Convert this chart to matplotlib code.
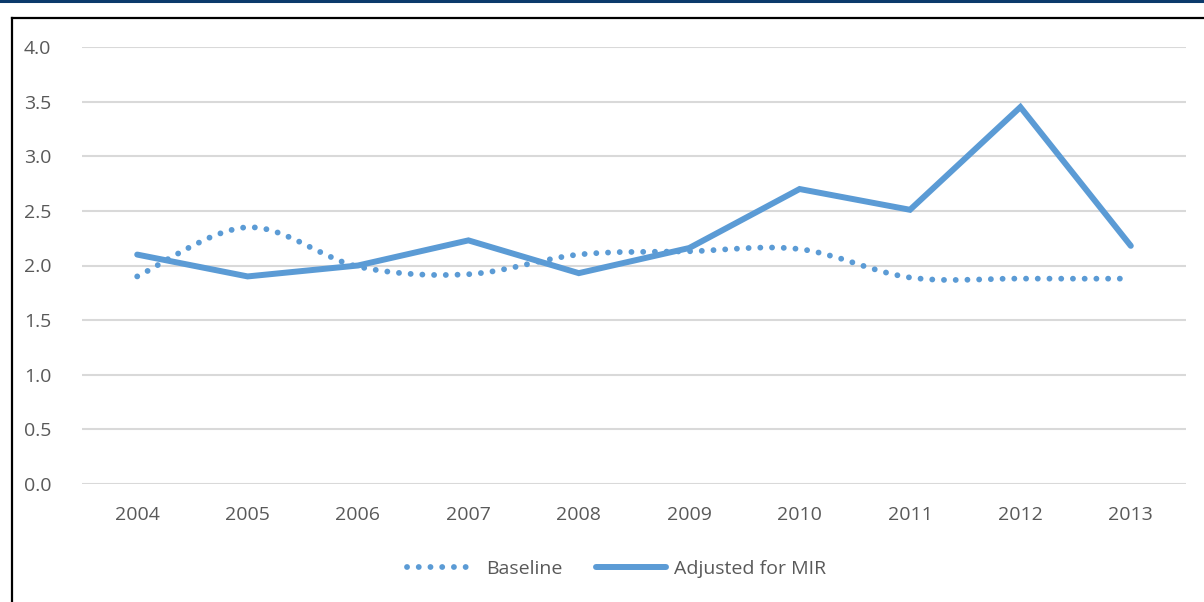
import matplotlib
matplotlib.use("Agg")
import matplotlib.pyplot as plt
from matplotlib.path import Path
from matplotlib.patches import PathPatch
from matplotlib.lines import Line2D
import numpy as np

years = ["2004", "2005", "2006", "2007", "2008", "2009", "2010", "2011", "2012", "2013"]
baseline = [1.90, 2.35, 1.99, 1.92, 2.10, 2.13, 2.15, 1.89, 1.88, 1.88]
adjusted = [2.10, 1.90, 2.00, 2.23, 1.93, 2.16, 2.70, 2.51, 3.45, 2.18]

BLUE = "#5B9BD5"
GREY = "#595959"
plt.rcParams["font.family"] = ["Open Sans", "DejaVu Sans"]

fig = plt.figure(figsize=(12.04, 6.02), dpi=100)
ax = fig.add_axes([82/1204, 1-484/602, 1104/1204, 437/602])

x = np.arange(len(years))


def smooth_path(xs, ys):
    # cubic Bezier through every point, Excel-style "smoothed line"
    pts = np.column_stack([xs, ys]).astype(float)
    n = len(pts)
    verts = [pts[0]]
    codes = [Path.MOVETO]
    for i in range(n - 1):
        p0 = pts[max(i - 1, 0)]
        p1, p2 = pts[i], pts[i + 1]
        p3 = pts[min(i + 2, n - 1)]
        c1 = p1 + (p2 - p0) / 6.0
        c2 = p2 - (p3 - p1) / 6.0
        verts += [c1, c2, p2]
        codes += [Path.CURVE4] * 3
    return Path(verts, codes)


DOTS = (0, (0.01, 2.0))
ax.add_patch(PathPatch(smooth_path(x, baseline), fill=False, edgecolor=BLUE,
                       lw=4.2, linestyle=DOTS, capstyle="round", zorder=3))
ax.plot(x, adjusted, color=BLUE, lw=4.3, solid_joinstyle="miter",
        solid_capstyle="round", zorder=4)

ax.set_xlim(-0.5, len(years) - 0.5)
ax.set_ylim(0, 4.0)
ticks = np.arange(0, 4.01, 0.5)
ax.set_yticks(ticks)
ax.set_yticklabels([f"{v:.1f}" for v in ticks])
ax.set_xticks(x)
ax.set_xticklabels(years)
ax.tick_params(axis="both", length=0, labelsize=14, colors=GREY)
ax.tick_params(axis="y", pad=22)
ax.tick_params(axis="x", pad=16)
ax.grid(axis="y", color="#D9D9D9", lw=1.5)
ax.set_axisbelow(True)
for s in ax.spines.values():
    s.set_visible(False)

handles = [Line2D([], [], color=BLUE, lw=4.2, linestyle=DOTS, dash_capstyle="round"),
           Line2D([], [], color=BLUE, lw=4.3, solid_capstyle="round")]
leg = fig.legend(handles, ["Baseline", "Adjusted for MIR"], loc="center",
                 bbox_to_anchor=(617/1204, 1-569/602), ncol=2, frameon=False,
                 fontsize=14, handlelength=3.6, columnspacing=1.7, handletextpad=0.45)
for t in leg.get_texts():
    t.set_color(GREY)

# outer frame: navy rule on top, black border left/top
fig.add_artist(Line2D([0, 1], [1 - 1/602, 1 - 1/602], color="#0B3A6B", lw=2.2))
fig.add_artist(Line2D([11.5/1204, 1], [1 - 17.5/602, 1 - 17.5/602], color="black", lw=1.6))
fig.add_artist(Line2D([11.5/1204, 11.5/1204], [0, 1 - 17.5/602], color="black", lw=1.6))

fig.savefig("out.png", dpi=100)
